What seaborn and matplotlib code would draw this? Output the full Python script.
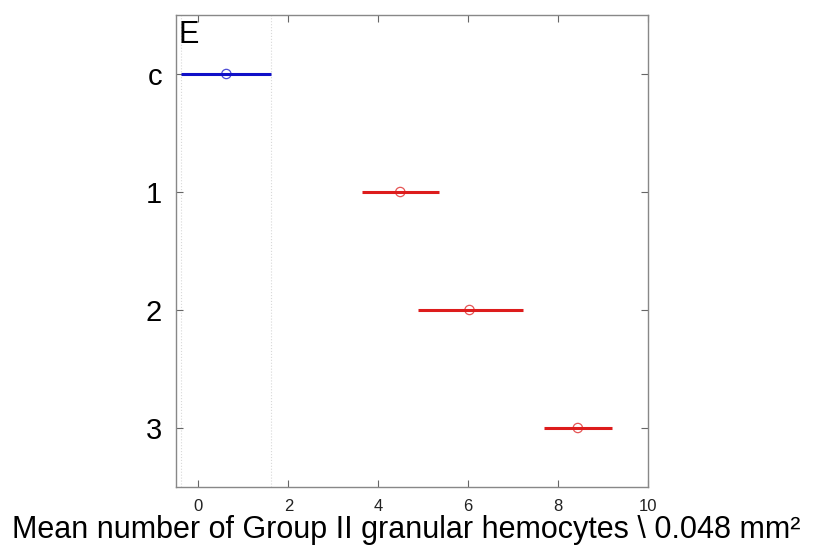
import matplotlib
matplotlib.use("Agg")
import matplotlib.pyplot as plt
import seaborn as sns
import pandas as pd
import numpy as np

# Data
groups = ["c", "1", "2", "3"]
means = [0.62, 4.49, 6.03, 8.44]
lower = [-0.38, 3.64, 4.88, 7.69]
upper = [1.62, 5.36, 7.21, 9.19]
colors = ["#1010c8", "#dd1c1c", "#dd1c1c", "#dd1c1c"]
x_ticks = [0, 2, 4, 6, 8, 10]

sns.set_style("white")
plt.rcParams['font.family'] = ['Liberation Sans', 'DejaVu Sans']
plt.rcParams['text.color'] = 'black'

df = pd.DataFrame({"group": groups, "mean": means, "lo": lower, "hi": upper,
                   "pos": np.arange(1, len(groups) + 1)})

fig = plt.figure(figsize=(8.13, 5.47), dpi=100)
ax = fig.add_axes([0.2165, 0.1097, 0.797 - 0.2165, 0.9726 - 0.1097])

# reference lines at the ends of control interval
for v in (lower[0], upper[0]):
    ax.axvline(v, color="#d8d8d8", lw=0.8, ls=":", zorder=0)

ax.hlines(df["pos"], df["lo"], df["hi"], colors=colors, lw=2.2, zorder=2)
sns.scatterplot(data=df, x="mean", y="pos", hue="group", palette=colors,
                marker="o", s=45, linewidth=0.9,
                legend=False, ax=ax, zorder=3)
coll = ax.collections[-1]
coll.set_facecolor("none")
coll.set_edgecolor([matplotlib.colors.to_rgba(c, 0.75) for c in colors])

ax.set_xlim(-0.5, 10)
ax.set_ylim(4.5, 0.5)
ax.set_xticks(x_ticks)
ax.set_xticklabels([str(t) for t in x_ticks], fontsize=12, color="#222222")
ax.set_yticks(df["pos"])
ax.set_yticklabels(groups, fontsize=21, color="black")
ax.tick_params(axis="x", direction="in", length=5, top=True, bottom=True,
               color="#666666", pad=8.5)
ax.tick_params(axis="y", direction="in", length=5, left=True, right=True,
               color="#666666", pad=10)
for s in ax.spines.values():
    s.set_color("#888888")
    s.set_linewidth(1.0)

ax.set_xlabel("Mean number of Group II granular hemocytes \\ 0.048 mm²",
              fontsize=22, color="black", va="baseline")
ax.xaxis.set_label_coords(0.488, -0.108)
ax.set_ylabel("")
ax.text(0.005, 0.99, "E", transform=ax.transAxes, fontsize=22,
        va="top", ha="left", color="black")

fig.savefig("out.png", dpi=100)
